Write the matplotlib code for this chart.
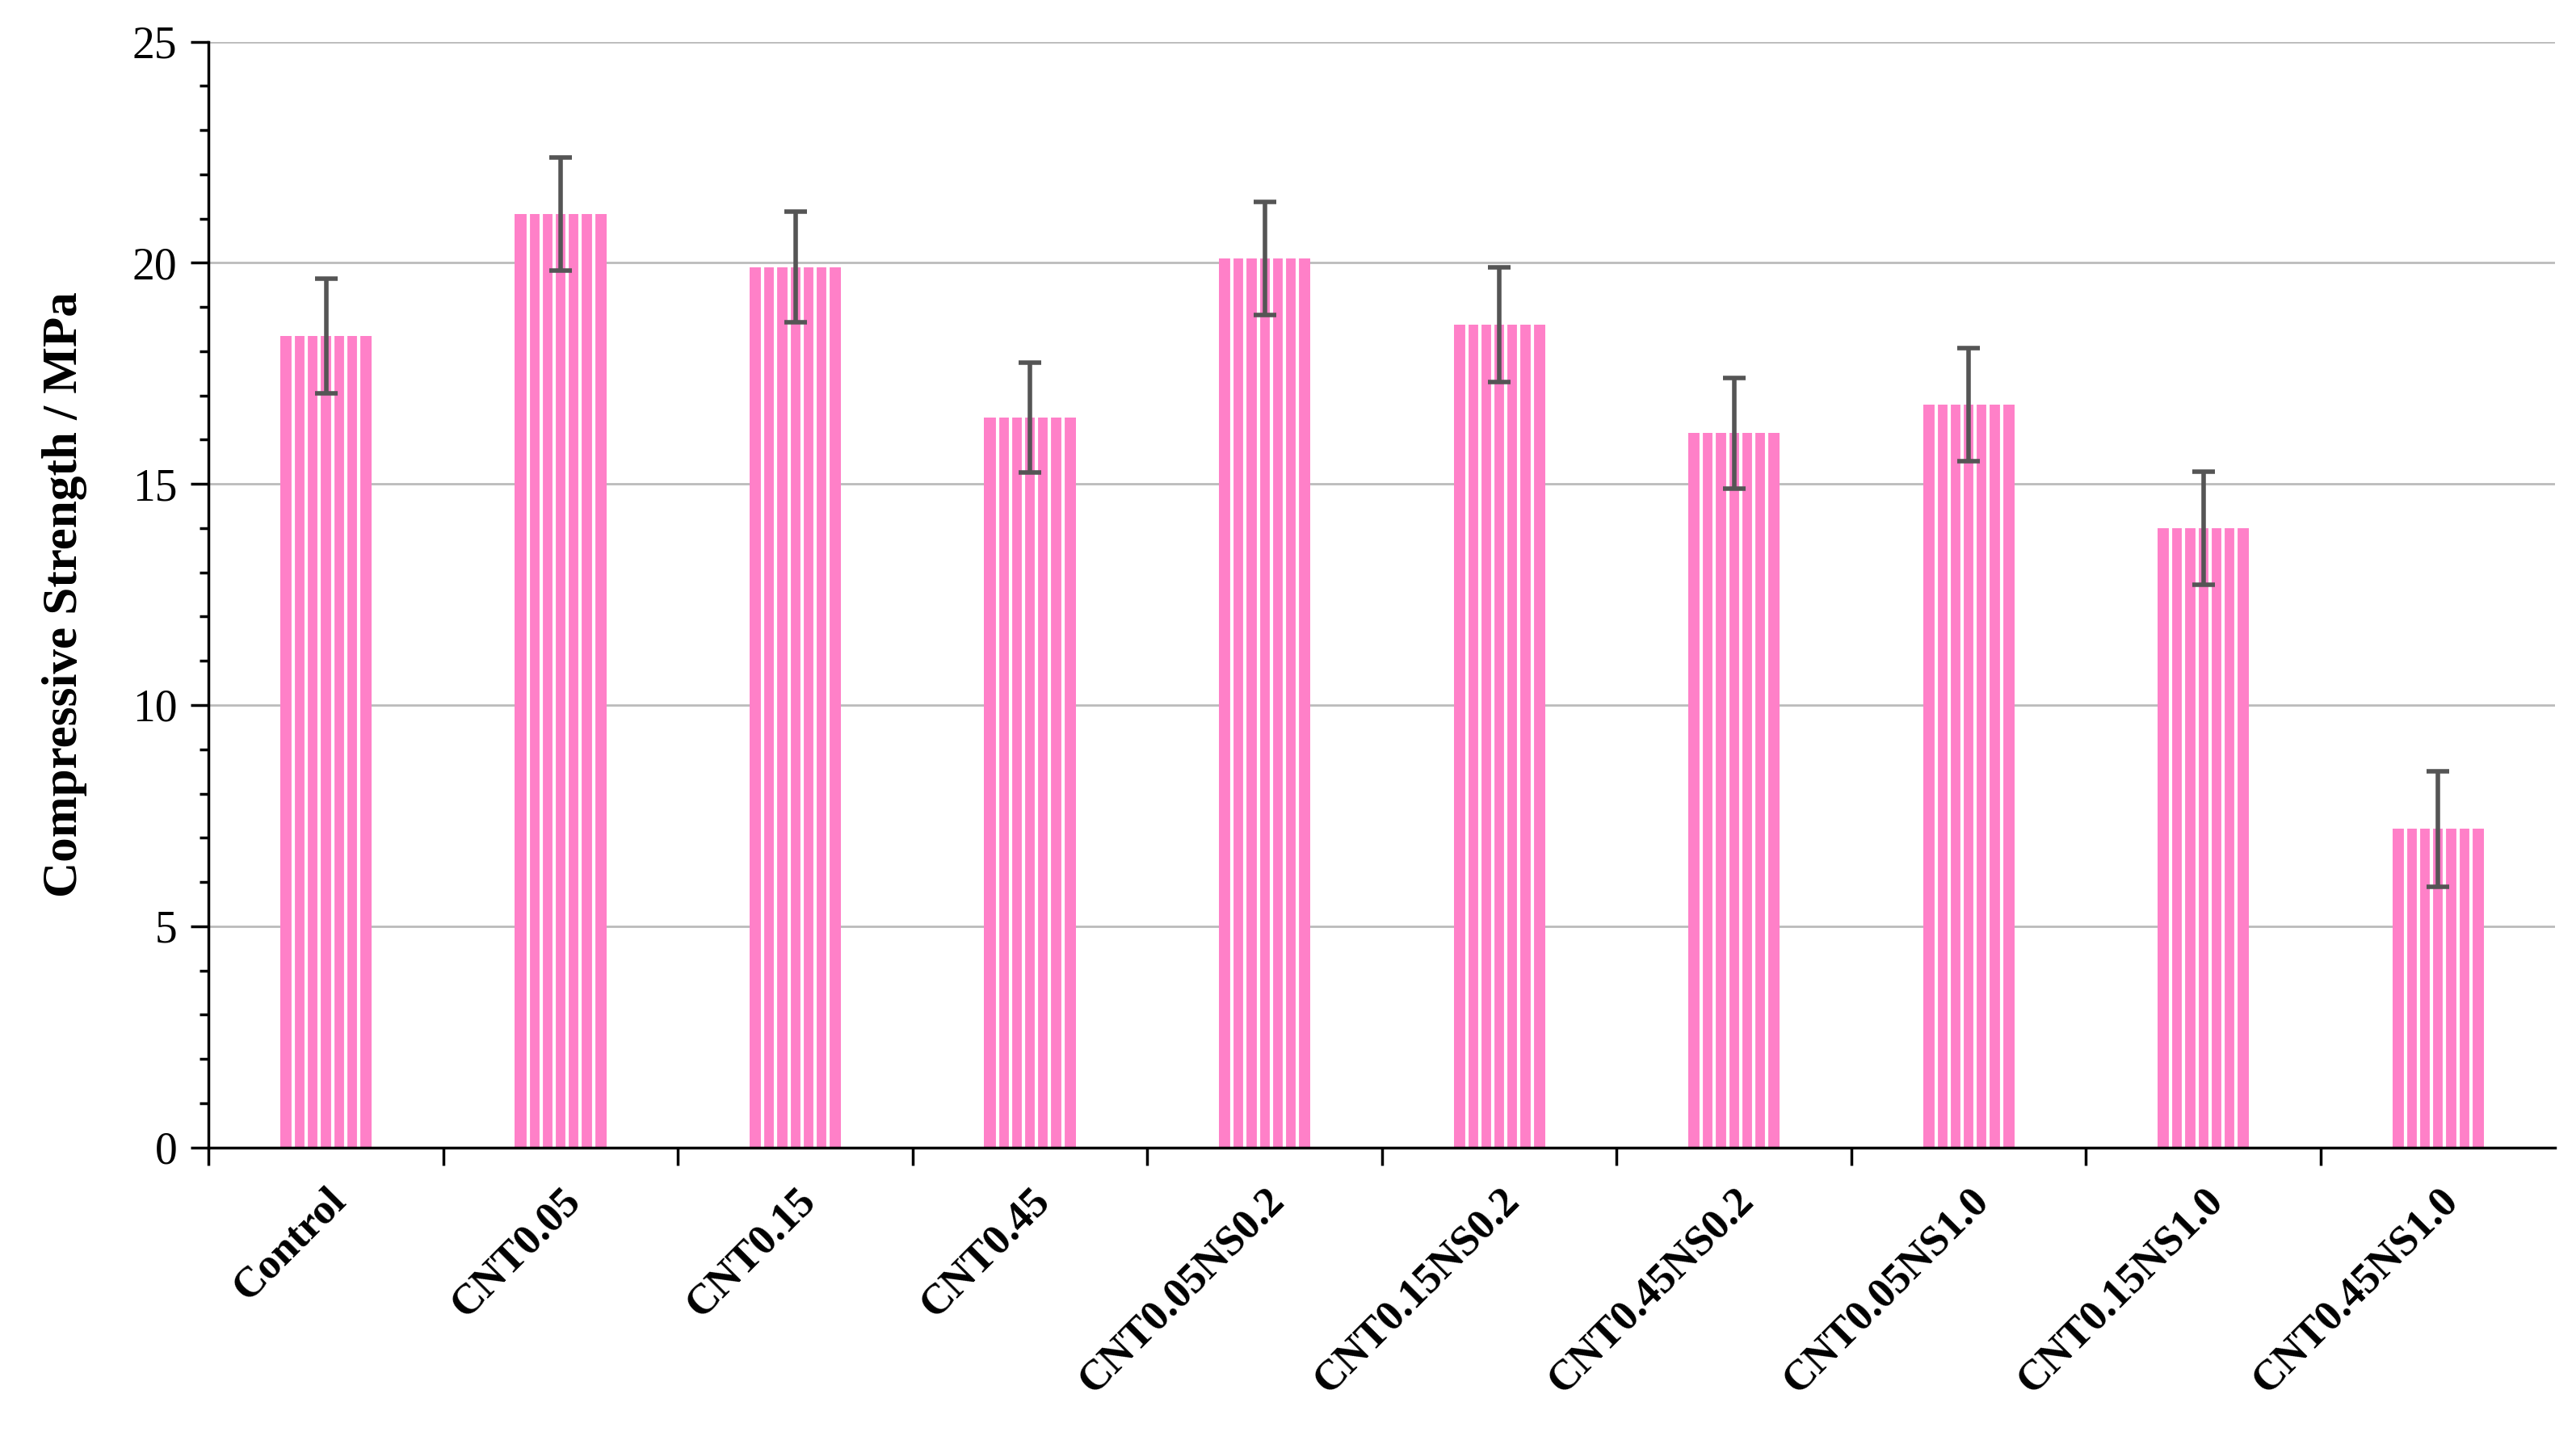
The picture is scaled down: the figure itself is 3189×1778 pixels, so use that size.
import numpy as np
import matplotlib.pyplot as plt
from matplotlib.ticker import MultipleLocator

labels = ["Control", "CNT0.05", "CNT0.15", "CNT0.45", "CNT0.05NS0.2", "CNT0.15NS0.2",
          "CNT0.45NS0.2", "CNT0.05NS1.0", "CNT0.15NS1.0", "CNT0.45NS1.0"]
strength = [18.35, 21.1, 19.9, 16.5, 20.1, 18.6, 16.15, 16.8, 14.0, 7.2]
errors = [1.3, 1.28, 1.25, 1.25, 1.28, 1.3, 1.25, 1.28, 1.28, 1.3]

plt.rcParams['font.family'] = ['Liberation Serif', 'DejaVu Serif']

fig = plt.figure(figsize=(31.89, 17.78), dpi=100)
ax = fig.add_axes([0.081, 0.201, 0.911, 0.770])
x = np.arange(len(labels))
width = 0.39
ax.bar(x, strength, width, color='#FF80C8', linewidth=0, zorder=2)
# white vertical stripes inside each bar
for xi, h in zip(x, strength):
    sx = xi - width / 2 + width * np.arange(1, 7) / 7
    ax.vlines(sx, 0, h, colors='white', linewidth=3, zorder=2.5)
ax.errorbar(x, strength, yerr=errors, fmt='none', ecolor='#555555', elinewidth=4,
            capsize=10, capthick=4, zorder=3)

ax.set_ylim(0, 25)
ax.set_xlim(-0.5, len(labels) - 0.5)
ax.yaxis.set_major_locator(MultipleLocator(5))
ax.yaxis.set_minor_locator(MultipleLocator(1))
ax.grid(axis='y', color='#bbbbbb', linewidth=2, zorder=0)
ax.set_axisbelow(True)
for s in ['top', 'right']:
    ax.spines[s].set_visible(False)
for s in ['left', 'bottom']:
    ax.spines[s].set_linewidth(2.5)

ax.set_xticks(x - 0.5, minor=True)
ax.set_xticks(x)
ax.set_xticklabels(labels, rotation=45, ha='right', rotation_mode='anchor',
                   fontsize=38, fontweight='bold')
ax.tick_params(axis='x', which='major', length=0, pad=30)
ax.tick_params(axis='x', which='minor', length=16, width=2.5, direction='out')
ax.tick_params(axis='y', which='major', length=16, width=2.5, direction='out', labelsize=40, pad=12)
ax.tick_params(axis='y', which='minor', length=8, width=2.5, direction='out')
ax.set_ylabel("Compressive Strength / MPa", fontsize=44, fontweight='bold', labelpad=40)

fig.savefig("out.png", dpi=100)
